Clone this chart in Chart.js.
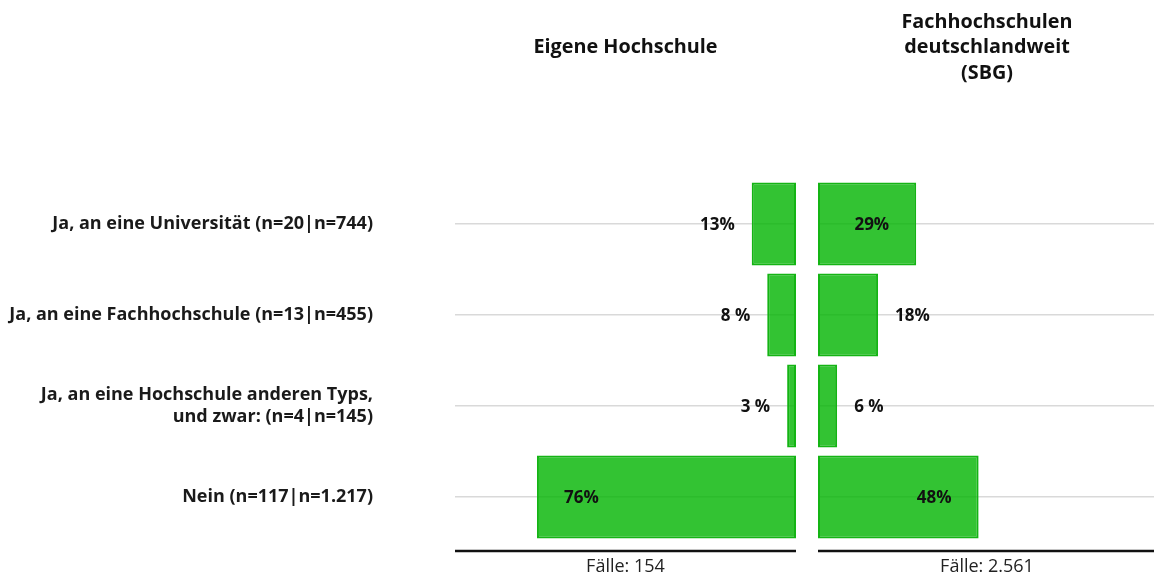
<!DOCTYPE html>
<html>
<head>
<meta charset="utf-8">
<script src="https://cdn.jsdelivr.net/npm/chart.js@4.4.1/dist/chart.umd.min.js"></script>
<style>
  body { margin: 0; background: #fff; width: 1154px; height: 579px; overflow: hidden; position: relative; }
  canvas { position: absolute; top: 0; }
  #ownChart { left: 0; }
  #sbgChart { left: 800px; }
</style>
</head>
<body>
<canvas id="ownChart" width="800" height="579"></canvas>
<canvas id="sbgChart" width="356" height="579"></canvas>
<script>
const categories = [
    "Ja, an eine Universität (n=20|n=744)",
    "Ja, an eine Fachhochschule (n=13|n=455)",
    ["Ja, an eine Hochschule anderen Typs,", "und zwar: (n=4|n=145)"],
    "Nein (n=117|n=1.217)",
];
const ownValues = [12.99, 8.44, 2.6, 75.97]; // Eigene Hochschule, %
const sbgValues = [29.05, 17.77, 5.66, 47.52]; // FH deutschlandweit, %
const ownTitle = "Eigene Hochschule";
const sbgTitle = ["Fachhochschulen", "deutschlandweit", "(SBG)"];
const ownCases = "Fälle: 154";
const sbgCases = "Fälle: 2.561";

const FONT = "'Open Sans', Lato, sans-serif";
Chart.defaults.font.family = FONT;
Chart.defaults.color = "#222";

function pctText(v) {
    const r = Math.round(v);
    return r < 10 ? r + " %" : r + "%";
}

// value labels: inside near the end for long bars, outside otherwise
const pctLabels = {
    id: "pctLabels",
    afterDatasetsDraw(chart) {
        const ctx = chart.ctx;
        const vals = chart.data.datasets[0].data;
        ctx.save();
        ctx.font = "bold 17px " + FONT;
        ctx.fillStyle = "#111";
        ctx.textBaseline = "middle";
        chart.getDatasetMeta(0).data.forEach((bar, i) => {
            const dir = bar.x > bar.base ? 1 : -1;
            const inside = vals[i] >= 20;
            const x = inside ? bar.x - dir * 27 : bar.x + dir * 17;
            ctx.textAlign = (inside ? -dir : dir) > 0 ? "left" : "right";
            ctx.fillText(pctText(vals[i]), x, bar.y + 1);
        });
        ctx.restore();
    },
};

// black base line a little below the plot
const baseLine = {
    id: "baseLine",
    afterDraw(chart) {
        const { ctx, chartArea } = chart;
        const y = chartArea.bottom + 8.5;
        ctx.save();
        ctx.strokeStyle = "#111";
        ctx.lineWidth = 2.5;
        ctx.beginPath();
        ctx.moveTo(chartArea.left, y);
        ctx.lineTo(chartArea.right, y);
        ctx.stroke();
        ctx.restore();
    },
};

function makeChart(id, values, opts) {
    const hidden = { grid: { display: false }, border: { display: false }, ticks: { display: false } };
    return new Chart(document.getElementById(id), {
        type: "bar",
        data: {
            labels: categories,
            datasets: [{
                data: values,
                xAxisID: "x",
                yAxisID: "y",
                backgroundColor: "rgba(0,180,0,0.8)",
                borderColor: "rgb(20,180,20)",
                borderWidth: 2,
                borderSkipped: false,
                barPercentage: 0.912,
                categoryPercentage: 1,
            }],
        },
        options: {
            indexAxis: "y",
            responsive: false,
            animation: false,
            layout: { padding: opts.padding },
            plugins: { legend: { display: false }, tooltip: { enabled: false } },
            scales: {
                x: {
                    ...hidden,
                    position: "bottom",
                    min: 0,
                    max: 100,
                    reverse: opts.reverse,
                    title: {
                        display: true,
                        text: opts.cases,
                        font: { size: 18, lineHeight: 1.2 },
                        color: "#222",
                        padding: { top: 0, bottom: 1.2 },
                    },
                    afterFit: (s) => { s.height = 36.5; },
                },
                xt: {
                    ...hidden,
                    type: "linear",
                    position: "top",
                    min: 0,
                    max: 100,
                    reverse: opts.reverse,
                    title: {
                        display: true,
                        text: opts.title,
                        font: { size: 19.8, weight: "bold", lineHeight: 25.5 / 19.8 },
                        color: "#111",
                        padding: { top: opts.titlePad, bottom: 0 },
                    },
                    afterFit: (s) => { s.height = 178.5; },
                },
                y: {
                    grid: { color: "#d9d9d9", lineWidth: 1.5, offset: false, drawTicks: false },
                    border: { display: false },
                    ticks: {
                        display: opts.showLabels,
                        font: { size: 18, weight: "bold", lineHeight: 1.25 },
                        color: "#1a1a1a",
                        padding: 82,
                    },
                    afterFit: (s) => {
                        s.width = opts.yWidth;
                        s.paddingTop = 0;
                        s.paddingBottom = 0;
                    },
                },
            },
        },
        plugins: [pctLabels, baseLine],
    });
}

makeChart("ownChart", ownValues, {
    reverse: true,
    title: ownTitle,
    titlePad: 34.25,
    cases: ownCases,
    showLabels: true,
    yWidth: 455,
    padding: { left: 0, right: 4, top: 0, bottom: 0 },
});

makeChart("sbgChart", sbgValues, {
    reverse: false,
    title: sbgTitle,
    titlePad: 9.25,
    cases: sbgCases,
    showLabels: false,
    yWidth: 0,
    padding: { left: 18, right: 0, top: 0, bottom: 0 },
});
</script>
</body>
</html>
